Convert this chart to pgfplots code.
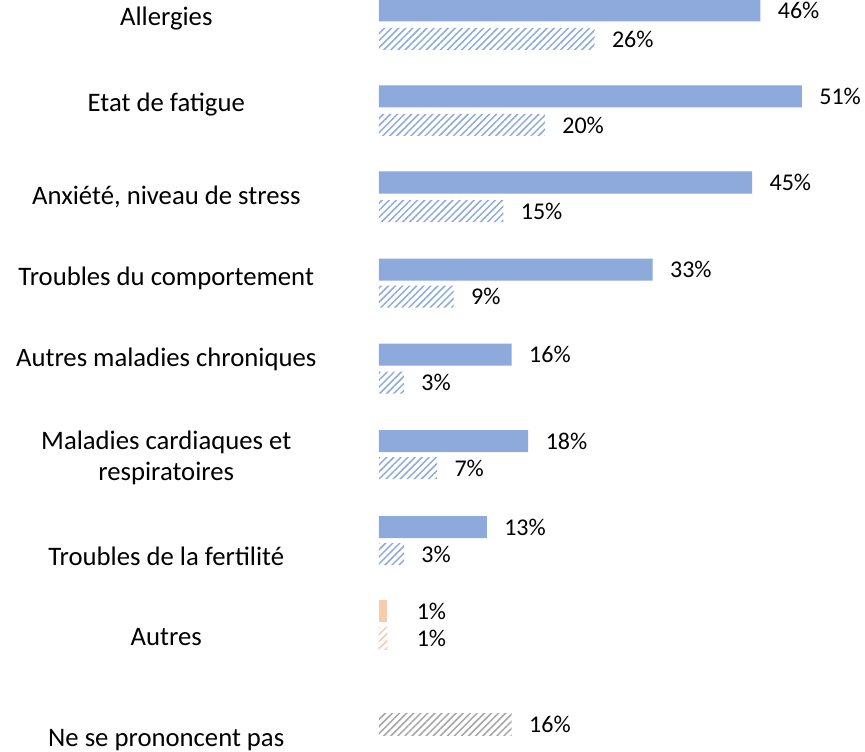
\documentclass[border=0pt]{standalone}
\usepackage{pgfplots}
\pgfplotsset{compat=1.18}
\usepackage{fontspec}
\setmainfont{Carlito}
\usetikzlibrary{patterns.meta}
\definecolor{cblue}{HTML}{8EA9DB}
\definecolor{cpeach}{HTML}{F8CBAD}
\definecolor{cgrey}{HTML}{A6A6A6}
\begin{document}
\begin{tikzpicture}
\begin{axis}[
  at={(0,0)}, anchor=south west,
  scale only axis, width=486bp, height=752bp,
  xmin=0, xmax=58.62, ymin=0, ymax=752, y dir=reverse,
  axis line style={draw=none}, tick style={draw=none},
  xtick=\empty,
  ytick={19,105,197,278,359,458,556,637,740},
  yticklabels={Allergies, Etat de fatigue, {Anxiété, niveau de stress}, Troubles du comportement, Autres maladies chroniques, {Maladies cardiaques et\\respiratoires}, Troubles de la fertilité, Autres, Ne se prononcent pas},
  yticklabel style={anchor=center, align=center, xshift=-208.5bp, font=\fontsize{26.7bp}{31bp}\selectfont, text=black},
  xbar, bar shift=0pt, bar width=22,
  point meta=x,
  /pgf/number format/assume math mode=true,
  nodes near coords={\pgfmathprintnumber{\pgfplotspointmeta}\%},
  every node near coord/.append style={anchor=west, xshift=14bp, font=\fontsize{24bp}{30bp}\selectfont, text=black},
  clip=false,
]
% solid series
\addplot[fill=cblue, draw=none] coordinates {
  (46,10.5) (51,96.5) (45,182.5) (33,269.5) (16,354.5) (18,441) (13,527)
};
% hatched series
\addplot[draw=none, pattern={Lines[angle=45,distance=5bp,line width=1.5bp]}, pattern color=cblue] coordinates {
  (26,39) (20,125) (15,211) (9,296.5) (3,382.5) (7,468) (3,554)
};
% Autres
\addplot[fill=cpeach, draw=none, every node near coord/.append style={xshift=12bp}] coordinates {(1,611)};
\addplot[draw=none, pattern={Lines[angle=45,distance=5bp,line width=1.5bp]}, pattern color=cpeach, every node near coord/.append style={xshift=12bp}] coordinates {(1,638.5)};
% Ne se prononcent pas
\addplot[draw=none, pattern={Lines[angle=45,distance=5bp,line width=1.5bp]}, pattern color=cgrey] coordinates {(16,724)};
\end{axis}
\pgfresetboundingbox
\path[use as bounding box] (-379bp,0) rectangle (486bp,752bp);
\end{tikzpicture}
\end{document}
